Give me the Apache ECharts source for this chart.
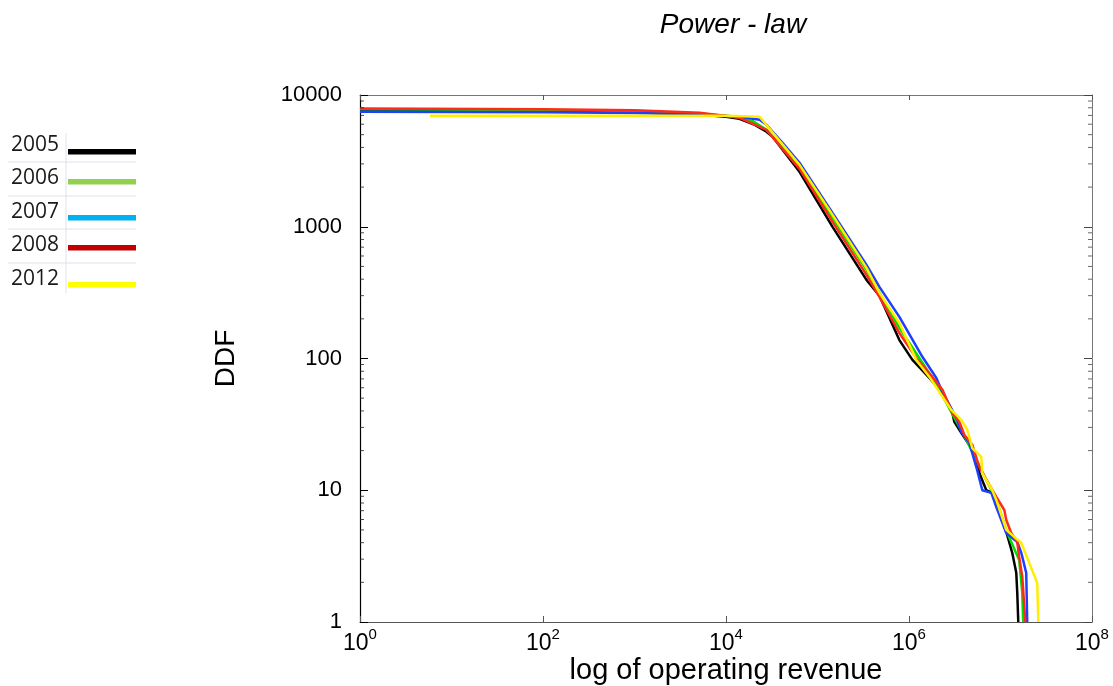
<!DOCTYPE html>
<html>
<head>
<meta charset="utf-8">
<script src="https://cdn.jsdelivr.net/npm/echarts@6/dist/echarts.min.js"></script>
<style>html,body{margin:0;padding:0;background:#fff}#c{width:1113px;height:686px}</style>
</head>
<body>
<div id="c"></div>
<script>
const years = ['2005', '2006', '2007', '2008', '2012'];
const lineColors = ['#000000', '#00dd00', '#1f3fff', '#ff2a1a', '#ffee00'];
const legendColors = ['#000000', '#92d050', '#00b0f0', '#c00000', '#ffff00'];
const yMinorTickValues = [2,3,4,5,6,7,8,9,20,30,40,50,60,70,80,90,200,300,400,500,600,700,800,900,2000,3000,4000,5000,6000,7000,8000,9000];

const data2005 = [[1,7700],[100,7600],[1000,7400],[5000,7100],[10000,6850],[14000,6600],[20000,6000],[27700,5260],[32300,4820],[41500,3840],[63600,2610],[146000,998],[343000,395],[475000,300],[785000,138],[1.09e6,97.6],[1.67e6,71.2],[2.26e6,55.8],[2.98e6,38.6],[3.13e6,33.0],[3.74e6,27.2],[4.80e6,20.9],[5.18e6,18.5],[5.87e6,13.5],[7.00e6,10.0],[8.13e6,9.55],[9.22e6,7.46],[1.157e7,4.82],[1.345e7,3.34],[1.487e7,2.36],[1.525e7,1.66],[1.564e7,1]];
const data2006 = [[1,7780],[100,7700],[1000,7550],[5150,7250],[10000,6950],[14000,6750],[20000,6300],[27700,5450],[63600,2850],[146000,1170],[343000,471],[785000,171],[1.80e6,71.2],[2.56e6,46.0],[4.23e6,24.1],[5.87e6,15.3],[9.0e6,8.44],[1.186e7,4.74],[1.60e7,2.96],[1.73e7,1.66],[1.77e7,1]];
const data2007 = [[1,7450],[100,7400],[1000,7300],[5150,7150],[14070,6830],[23300,6480],[27700,5940],[41500,4340],[63600,3060],[146000,1275],[343000,514],[475000,350],[785000,207],[1.40e6,103],[1.99e6,71.2],[2.32e6,55.8],[3.29e6,35.4],[3.74e6,27.7],[4.56e6,22.9],[5.44e6,15.0],[6.33e6,10.0],[7.94e6,9.55],[9.0e6,7.46],[1.157e7,4.74],[1.525e7,4.05],[1.69e7,3.34],[1.91e7,2.36],[1.96e7,1]];
const data2008 = [[1,7900],[100,7800],[1000,7650],[5150,7330],[14070,6710],[27700,5440],[63600,2750],[146000,1090],[343000,431],[475000,294],[785000,156],[1.24e6,97.6],[1.80e6,72.5],[2.32e6,57.8],[2.98e6,38.6],[3.55e6,33.0],[4.03e6,26.3],[4.92e6,22.1],[5.87e6,15.0],[7.55e6,11.0],[9.0e6,8.9],[1.10e7,7.08],[1.157e7,5.95],[1.31e7,4.74],[1.525e7,4.05],[1.60e7,3.12],[1.73e7,2.20],[1.87e7,1]];
const data2012 = [[5.81,6950],[100,6950],[1000,6950],[9910,6950],[23300,6830],[63600,2950],[146000,1230],[343000,487],[475000,315],[785000,186],[1.20e6,97.6],[1.67e6,72.5],[2.90e6,40.7],[3.74e6,34.2],[4.34e6,28.7],[4.92e6,20.9],[6.17e6,17.9],[6.33e6,13.5],[8.13e6,10.0],[9.0e6,8.44],[1.157e7,5.0],[1.69e7,3.98],[2.52e7,1.98],[2.59e7,1]];
const seriesData = [data2005, data2006, data2007, data2008, data2012];

const FONT = 'Liberation Sans, Arial, sans-serif';
const chart = echarts.init(document.getElementById('c'), null, {renderer: 'canvas'});

const legendRowsY = [148, 181, 215, 248, 282];
const legendLineY = [152, 182, 218, 248, 285];
const graphics = [];
[162, 196, 229, 263].forEach(y => graphics.push({type: 'line', shape: {x1: 8, y1: y, x2: 136, y2: y}, style: {stroke: '#dfe2ec', lineWidth: 1}}));
graphics.push({type: 'line', shape: {x1: 66, y1: 133, x2: 66, y2: 293}, style: {stroke: '#dfe2ec', lineWidth: 1}});
years.forEach((y, i) => {
  graphics.push({type: 'text', left: 11, top: legendRowsY[i] - 13, style: {text: y, font: '21px "Open Sans"', fill: '#1a1a1a'}});
  graphics.push({type: 'rect', shape: {x: 68, y: legendLineY[i] - 3, width: 68, height: 5.5}, style: {fill: legendColors[i]}});
});

function xFmt(v) {
  const e = Math.round(Math.log10(v));
  return '{b|10}{s|' + e + '}';
}

const lineSeries = seriesData.map((d, i) => ({
  name: years[i], type: 'line', data: d, xAxisIndex: 0, yAxisIndex: 0,
  showSymbol: false, symbol: 'none', smooth: false,
  lineStyle: {color: lineColors[i], width: 2.5}, z: 3 + i
}));
const minorLeft = {
  type: 'scatter', xAxisIndex: 0, yAxisIndex: 0, silent: true, clip: false, z: 10,
  data: yMinorTickValues.map(v => [1, v]),
  symbol: 'rect', symbolSize: [4, 1], symbolOffset: [2, 0],
  itemStyle: {color: '#222'}
};
const minorRight = {
  type: 'scatter', xAxisIndex: 0, yAxisIndex: 0, silent: true, clip: false, z: 10,
  data: yMinorTickValues.map(v => [1e8, v]),
  symbol: 'rect', symbolSize: [4, 1], symbolOffset: [-2, 0],
  itemStyle: {color: '#444'}
};

const option = {
  animation: false,
  backgroundColor: '#fff',
  title: {
    text: 'Power - law', left: 728, top: 6, textAlign: 'center',
    textStyle: {fontFamily: FONT, fontStyle: 'italic', fontWeight: 'normal', fontSize: 28, color: '#000'}
  },
  graphic: graphics,
  grid: {left: 360, right: 21, top: 95, bottom: 64, show: false, containLabel: false, outerBoundsMode: 'none'},
  xAxis: [{
    type: 'log', logBase: 10, min: 1, max: 1e8, interval: 2,
    axisLine: {lineStyle: {color: '#555', width: 1.2}},
    axisTick: {inside: true, length: 6, lineStyle: {color: '#555'}},
    minorTick: {show: false},
    splitLine: {show: false},
    axisLabel: {
      margin: 5, formatter: xFmt,
      rich: {
        b: {fontFamily: FONT, fontSize: 23, color: '#000', lineHeight: 28, verticalAlign: 'bottom'},
        s: {fontFamily: FONT, fontSize: 15, color: '#000', lineHeight: 28, verticalAlign: 'top'}
      }
    },
    name: 'log of operating revenue', nameLocation: 'middle', nameGap: 34, nameMoveOverlap: false,
    nameTextStyle: {fontFamily: FONT, fontSize: 29, color: '#000'}
  }, {
    type: 'log', logBase: 10, min: 1, max: 1e8, interval: 2, position: 'top',
    axisLine: {lineStyle: {color: '#777'}},
    axisTick: {inside: true, length: 5, lineStyle: {color: '#555'}},
    axisLabel: {show: false}, splitLine: {show: false}
  }],
  yAxis: [{
    type: 'log', logBase: 10, min: 1, max: 10000,
    axisLine: {show: true, lineStyle: {color: '#000', width: 1.2}},
    axisTick: {inside: true, length: 8, lineStyle: {color: '#000'}},
    minorTick: {show: false},
    splitLine: {show: false},
    axisLabel: {margin: 18, fontFamily: FONT, fontSize: 22, color: '#000', formatter: v => String(Math.round(v))},
    name: 'DDF', nameLocation: 'middle', nameGap: 120, nameMoveOverlap: false,
    nameTextStyle: {fontFamily: FONT, fontSize: 28, color: '#000'}
  }, {
    type: 'log', logBase: 10, min: 1, max: 10000, position: 'right',
    axisLine: {show: true, lineStyle: {color: '#777'}},
    axisTick: {inside: true, length: 8, lineStyle: {color: '#444'}},
    minorTick: {show: false},
    axisLabel: {show: false}, splitLine: {show: false}
  }],
  series: lineSeries.concat([minorLeft, minorRight])
};
chart.setOption(option);
</script>
</body>
</html>
